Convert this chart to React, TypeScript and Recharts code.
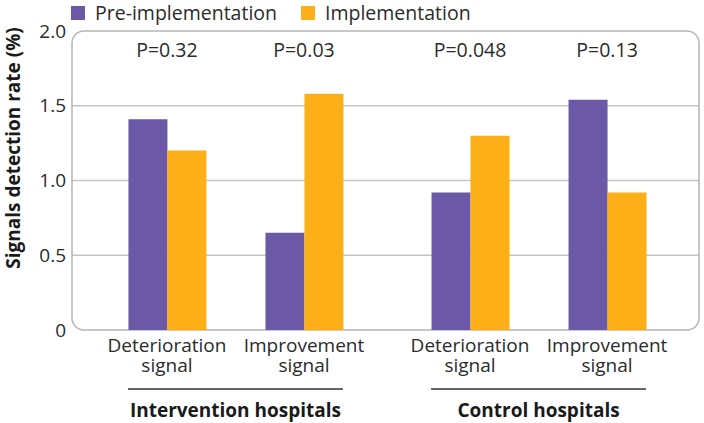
import React from 'react';
import {
  BarChart,
  Bar,
  XAxis,
  YAxis,
  CartesianGrid,
  ReferenceArea,
  Legend,
  Label,
} from 'recharts';

// ---- data ----
const groupNames = ['Intervention hospitals', 'Control hospitals'];
const signalTypes = ['Deterioration signal', 'Improvement signal'];
const preValues = [1.41, 0.65, 0.92, 1.54];
const implValues = [1.2, 1.58, 1.3, 0.92];
const pLabels = ['P=0.32', 'P=0.03', 'P=0.048', 'P=0.13'];
const seriesNames = ['Pre-implementation', 'Implementation'];
const seriesColors = ['#6b58a6', '#fcaf17'];
const yTicks = [0, 0.5, 1, 1.5, 2];
const gridValues = [0.5, 1, 1.5];
const groupGap = 0.212; // extra spacing between hospital groups, in category units

const data = preValues.map((v, i) => {
  const g = Math.floor(i / 2);
  const c = i % 2;
  return {
    pos: g * (2 + groupGap) + c,
    pre: v,
    impl: implValues[i],
    signal: signalTypes[c],
    p: pLabels[i],
  };
});
const catTicks = data.map((d) => d.pos);
const groupTicks = groupNames.map((_, g) => g * (2 + groupGap) + 0.5);
const xDomain = [-0.693, catTicks[catTicks.length - 1] + 0.671];

const FONT = '"Open Sans", "Noto Sans", sans-serif';
const TEXT = '#2b2b2b';

const findByPos = (v: number) => data.reduce((a, b) => (Math.abs(b.pos - v) < Math.abs(a.pos - v) ? b : a));

const CategoryTick = (props: any) => {
  const { x, y, payload } = props;
  const d = findByPos(payload.value);
  const [l1, l2] = d.signal.split(' ');
  return (
    <g>
      <text x={x} y={y + 22} textAnchor="middle" fontSize={19} fill={TEXT} fontFamily={FONT}>
        {l1}
      </text>
      <text x={x} y={y + 42} textAnchor="middle" fontSize={19} fill={TEXT} fontFamily={FONT}>
        {l2}
      </text>
    </g>
  );
};

const PTick = (props: any) => {
  const { x, y, payload } = props;
  const d = findByPos(payload.value);
  return (
    <text x={x} y={y + 26} textAnchor="middle" fontSize={19.5} fill={TEXT} fontFamily={FONT}>
      {d.p}
    </text>
  );
};

const GroupTick = (props: any) => {
  const { x, y, payload } = props;
  const idx = groupTicks.findIndex((t) => Math.abs(t - payload.value) < 1e-6);
  return (
    <g>
      <line x1={x - 107.5} x2={x + 107.5} y1={y + 7} y2={y + 7} stroke="#333" strokeWidth={1.3} />
      <text x={x} y={y + 35} textAnchor="middle" fontSize={19} fontWeight={700} fill="#1a1a1a" fontFamily={FONT}>
        {groupNames[idx >= 0 ? idx : 0]}
      </text>
    </g>
  );
};

const YLabel = () => {
  const cx = 20;
  const cy = 148;
  return (
    <text
      x={cx}
      y={cy}
      transform={`rotate(-90, ${cx}, ${cy})`}
      textAnchor="middle"
      fontSize={19}
      fontWeight={700}
      fill="#1a1a1a"
      fontFamily={FONT}
    >
      Signals detection rate (%)
    </text>
  );
};

const LegendContent = () => (
  <div
    style={{
      height: 24,
      display: 'flex',
      alignItems: 'flex-start',
      paddingLeft: 71,
      fontFamily: FONT,
      fontSize: 19.5,
      lineHeight: '19px',
      color: TEXT,
      transform: 'translateY(-3px)',
    }}
  >
    {seriesNames.map((n, i) => (
      <div key={n} style={{ display: 'flex', alignItems: 'center', marginRight: 24 }}>
        <span
          style={{
            display: 'inline-block',
            width: 14,
            height: 14,
            background: seriesColors[i],
            marginRight: 10,
          }}
        />
        <span>{n}</span>
      </div>
    ))}
  </div>
);

const BoxShape = (props: any) => {
  const { x, y, width, height } = props;
  return <rect x={x} y={y} width={width} height={height} rx={12} ry={12} fill="none" stroke="#b5b5b5" strokeWidth={1.5} />;
};

export default function App() {
  return (
    <div style={{ position: 'absolute', left: 0, top: 0, background: '#fff' }}>
      <BarChart
        width={704}
        height={423}
        data={data}
        margin={{ top: 6, right: 5, bottom: 0, left: 0 }}
        barGap={0}
        style={{ fontFamily: FONT }}
      >
        <CartesianGrid horizontal vertical={false} horizontalValues={gridValues} stroke="#c4c4c4" strokeWidth={1.5} />
        <XAxis
          xAxisId={0}
          dataKey="pos"
          type="number"
          domain={xDomain}
          ticks={catTicks}
          interval={0}
          allowDataOverflow
          axisLine={false}
          tickLine={false}
          tickSize={0}
          tickMargin={0}
          height={52}
          tick={<CategoryTick />}
        />
        <XAxis
          xAxisId="group"
          dataKey="pos"
          type="number"
          domain={xDomain}
          ticks={groupTicks}
          interval={0}
          allowDataOverflow
          axisLine={false}
          tickLine={false}
          tickSize={0}
          tickMargin={0}
          height={41}
          tick={<GroupTick />}
        />
        <XAxis
          xAxisId="top"
          orientation="top"
          dataKey="pos"
          type="number"
          domain={xDomain}
          ticks={catTicks}
          interval={0}
          allowDataOverflow
          axisLine={false}
          tickLine={false}
          tickSize={0}
          tickMargin={0}
          height={1}
          tick={<PTick />}
        />
        <YAxis
          width={72}
          domain={[0, 2]}
          ticks={yTicks}
          interval={0}
          axisLine={false}
          tickLine={false}
          tickSize={0}
          tickMargin={6}
          tick={{ fontSize: 19, fill: TEXT, fontFamily: FONT }}
          tickFormatter={(v: number) => (v === 0 ? '0' : v.toFixed(1))}
        >
          <Label content={<YLabel />} />
        </YAxis>
        <Legend verticalAlign="top" align="left" content={<LegendContent />} />
        <Bar dataKey="pre" name={seriesNames[0]} fill={seriesColors[0]} barSize={39} isAnimationActive={false} />
        <Bar dataKey="impl" name={seriesNames[1]} fill={seriesColors[1]} barSize={39} isAnimationActive={false} />
        <ReferenceArea y1={0} y2={2} shape={<BoxShape />} fill="none" ifOverflow="visible" />
      </BarChart>
    </div>
  );
}
